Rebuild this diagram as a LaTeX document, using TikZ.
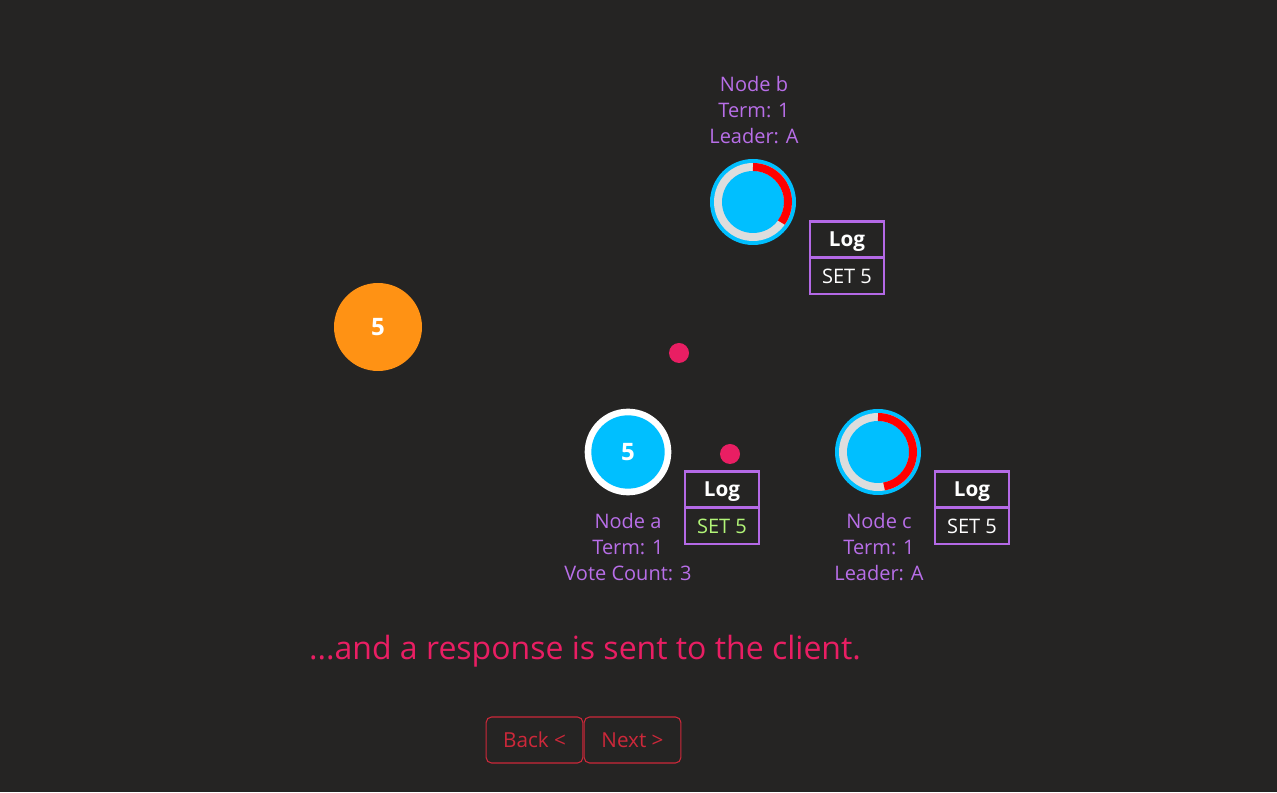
\documentclass[tikz,border=0pt]{standalone}
\usepackage{fontspec}
\setmainfont{Open Sans}
\definecolor{bg}{RGB}{37,36,35}
\definecolor{cy}{RGB}{0,191,255}
\definecolor{ringgrey}{RGB}{221,221,221}
\definecolor{arcred}{RGB}{255,0,0}
\definecolor{purp}{RGB}{184,110,232}
\definecolor{logpurp}{RGB}{180,105,230}
\definecolor{grn}{RGB}{178,245,120}
\definecolor{pink}{RGB}{233,30,99}
\definecolor{orng}{RGB}{255,146,20}
\definecolor{btn}{RGB}{205,40,58}
\tikzset{
  lbl/.style={text=purp, align=center, font=\fontsize{15}{19.5}\selectfont, inner sep=0pt},
  loghead/.style={draw=logpurp, line width=2.2pt, minimum width=55.5pt, minimum height=27pt, inner sep=0pt, text depth=0pt, text=white, font=\fontsize{15.5}{16}\selectfont\bfseries},
  logbody/.style={draw=logpurp, line width=2.2pt, minimum width=55.5pt, minimum height=27pt, inner sep=0pt, text=white, font=\fontsize{15}{16}\selectfont},
  dot/.style={circle, fill=pink, minimum size=15pt, inner sep=0pt},
  btnbox/.style={draw=btn, line width=0.8pt, rounded corners=4pt, minimum width=72.5pt, minimum height=34.5pt, inner sep=0pt, text=btn, font=\fontsize{15.5}{16}\selectfont},
  numtxt/.style={text=white, font=\fontsize{18}{20}\selectfont\bfseries}
}
\newcommand{\followerring}[2]{%
  \fill[cy] (#1) circle[radius=43];
  \fill[ringgrey] (#1) circle[radius=39];
  \fill[cy] (#1) circle[radius=31];
  \draw[arcred, line width=6pt] (#1) ++(90:35) arc[start angle=90, end angle=#2, radius=35];
}
\begin{document}
\begin{tikzpicture}[x=0.75pt,y=0.75pt]
\fill[bg] (0,0) rectangle (1277,792);
\useasboundingbox (0,0) rectangle (1277,792);

% node b
\coordinate (b) at (753,590);
\followerring{b}{-36}
\node[lbl] (lb) at (754,682) {Node b\\Term: 1\\Leader: A};
\node[loghead] (logbh) at (847,552.5) {Log};
\node[logbody] (logbb) at (847,516) {SET 5};

% node c
\coordinate (c) at (878,340);
\followerring{c}{-80}
\node[lbl] (lc) at (879,245) {Node c\\Term: 1\\Leader: A};
\node[loghead] (logch) at (972,302.5) {Log};
\node[logbody] (logcb) at (972,266) {SET 5};

% node a (leader)
\node[circle, fill=white, minimum size=65pt, inner sep=0pt] (a) at (628,340) {};
\node[circle, fill=cy, minimum size=55pt, inner sep=0pt, numtxt] (ain) at (628,340) {5};
\node[lbl] (la) at (628,245) {Node a\\Term: 1\\Vote Count: 3};
\node[loghead] (logah) at (722,302.5) {Log};
\node[logbody, text=grn] (logab) at (722,266) {SET 5};

% client
\node[circle, fill=orng, minimum size=66pt, inner sep=0pt, numtxt] (client) at (378,465) {5};

% messages
\node[dot] (m1) at (679,439) {};
\node[dot] (m2) at (730,338) {};

% caption
\node[text=pink, font=\fontsize{24}{28}\selectfont, inner sep=0pt] (cap) at (585,141) {...and a response is sent to the client.};

% buttons
\node[btnbox] (back) at (534.5,52) {Back <};
\node[btnbox] (next) at (632.5,52) {Next >};
\end{tikzpicture}
\end{document}
